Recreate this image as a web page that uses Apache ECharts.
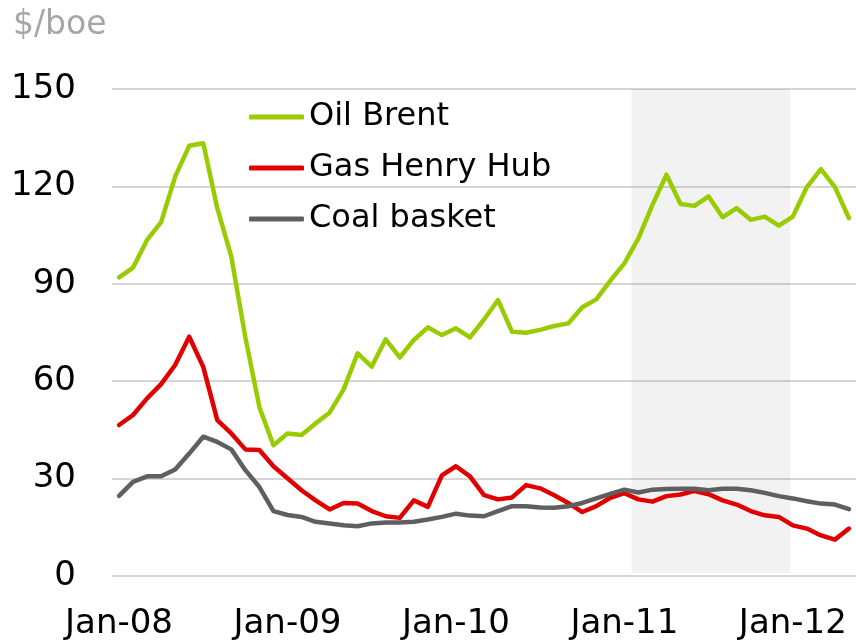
<!DOCTYPE html>
<html>
<head>
<meta charset="utf-8">
<script src="https://cdn.jsdelivr.net/npm/echarts@6/dist/echarts.min.js"></script>
<style>
  html, body { margin: 0; padding: 0; background: #fff; }
  #chart { width: 856px; height: 642px; }
</style>
</head>
<body>
<div id="chart"></div>
<script>
  // 月度数据 Jan-08 .. May-12 ($/boe)
  const xTickLabels = ["Jan-08", "Jan-09", "Jan-10", "Jan-11", "Jan-12"];
  const seriesNames = ["Oil Brent", "Gas Henry Hub", "Coal basket"];

  const oilBrent = [
    92, 95, 103.5, 109, 123, 132.5, 133.3, 113.3, 98.4, 73.5, 52, 40.3,
    43.9, 43.4, 47, 50.3, 57.5, 68.6, 64.5, 72.9, 67.3, 72.7, 76.6, 74.2,
    76.3, 73.5, 79, 85, 75.2, 74.9, 75.8, 77, 77.8, 82.8, 85.2, 91,
    96.3, 104, 114.3, 123.6, 114.6, 114, 116.9, 110.5, 113.3, 109.7, 110.7, 107.9,
    110.7, 119.8, 125.3, 119.8, 110.2
  ];
  const gasHenryHub = [
    46.5, 49.6, 54.7, 59.1, 65, 73.7, 64.4, 48, 43.9, 39, 38.8, 33.8,
    30.1, 26.4, 23.3, 20.5, 22.5, 22.3, 20, 18.4, 17.9, 23.3, 21.3, 31,
    33.8, 30.7, 24.9, 23.6, 24.2, 28, 27, 24.9, 22.5, 19.7, 21.5, 24.1,
    25.5, 23.6, 22.9, 24.6, 25.1, 26.2, 25.2, 23.3, 22, 20, 18.7, 18.2,
    15.6, 14.6, 12.5, 11.2, 14.6
  ];
  const coalBasket = [
    24.7, 29, 30.7, 30.7, 32.8, 37.7, 42.9, 41.3, 39, 32.6, 27.4, 20,
    18.8, 18.2, 16.7, 16.2, 15.6, 15.3, 16.2, 16.5, 16.5, 16.7, 17.4, 18.2,
    19.2, 18.6, 18.4, 20, 21.5, 21.5, 21.1, 21, 21.5, 22.5, 23.9, 25.3,
    26.6, 25.7, 26.6, 26.8, 26.9, 26.9, 26.4, 26.9, 26.9, 26.4, 25.6, 24.6,
    23.9, 23, 22.3, 22, 20.6
  ];
  // 阴影区间 (月序号)
  const shadeRange = [36.5, 47.8];

  const font = "DejaVu Sans";
  const colors = ["#99cc00", "#e10000", "#5f5f5f"];

  function toPoints(arr) {
    return arr.map((v, i) => [i, v]);
  }

  const chart = echarts.init(document.getElementById("chart"));

  const option = {
    animation: false,
    title: {
      text: "$/boe",
      left: 8,
      top: 4,
      textStyle: { color: "#a6a6a6", fontFamily: font, fontSize: 33, fontWeight: "normal" }
    },
    legend: {
      orient: "vertical",
      left: 244,
      top: 96,
      icon: "roundRect",
      itemWidth: 55,
      itemHeight: 5,
      itemGap: 19,
      itemTextGap: 4,
      textStyle: { color: "#000", fontFamily: font, fontSize: 32 },
      data: seriesNames
    },
    grid: {
      left: 112,
      right: 0,
      top: 89,
      bottom: 66,
      containLabel: false
    },
    xAxis: {
      type: "value",
      min: -0.5,
      max: 52.5,
      axisLine: { show: false },
      axisTick: { show: false },
      splitLine: { show: false },
      axisLabel: {
        customValues: [0, 12, 24, 36, 48],
        formatter: (v) => xTickLabels[Math.round(v / 12)],
        color: "#000",
        fontFamily: font,
        fontSize: 34,
        margin: 31
      }
    },
    yAxis: {
      type: "value",
      min: 0,
      max: 150,
      interval: 30,
      axisLine: { show: false },
      axisTick: { show: false },
      splitLine: { lineStyle: { color: "#c8c8c8", width: 1.5 } },
      axisLabel: { color: "#000", fontFamily: font, fontSize: 34, margin: 36 }
    },
    series: [
      {
        name: seriesNames[0],
        type: "line",
        data: toPoints(oilBrent),
        showSymbol: false,
        symbol: "none",
        color: colors[0],
        lineStyle: { width: 4.5, cap: "round", join: "round" },
        markArea: {
          silent: true,
          itemStyle: { color: "rgba(0,0,0,0.05)" },
          data: [[{ xAxis: shadeRange[0], yAxis: 1 }, { xAxis: shadeRange[1], yAxis: 150 }]]
        }
      },
      {
        name: seriesNames[1],
        type: "line",
        data: toPoints(gasHenryHub),
        showSymbol: false,
        symbol: "none",
        color: colors[1],
        lineStyle: { width: 4.5, cap: "round", join: "round" }
      },
      {
        name: seriesNames[2],
        type: "line",
        data: toPoints(coalBasket),
        showSymbol: false,
        symbol: "none",
        color: colors[2],
        lineStyle: { width: 4.5, cap: "round", join: "round" }
      }
    ]
  };

  chart.setOption(option);
</script>
</body>
</html>
